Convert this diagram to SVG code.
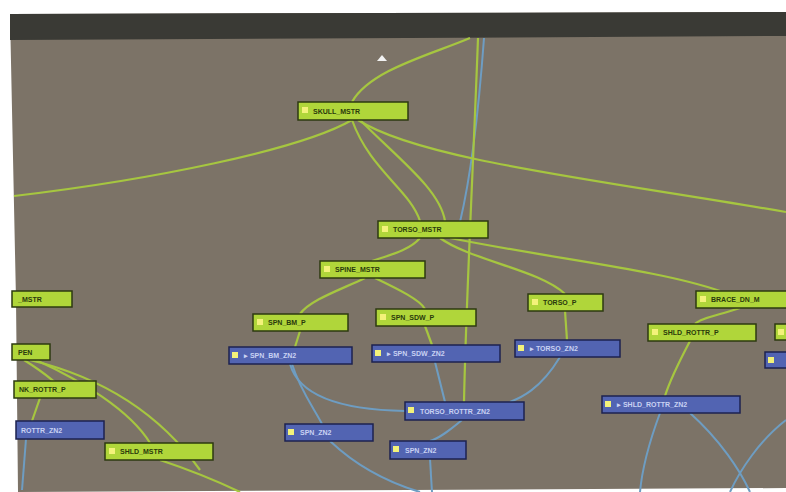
<svg xmlns="http://www.w3.org/2000/svg" width="786" height="492" viewBox="0 0 786 492">
<defs>
<style>
.g{fill:#b0d63a;stroke:#2d3a10;stroke-width:1.5}
.b{fill:#5264b2;stroke:#1c2250;stroke-width:1.5}
.sq{fill:#f3f27a}
.tg{font-family:"Liberation Sans",Arial,sans-serif;font-size:7px;font-weight:bold;fill:#2a3a0c}
.tb{font-family:"Liberation Sans",Arial,sans-serif;font-size:7px;font-weight:bold;fill:#c9d2f2}
.cg{fill:none;stroke:#a6c640;stroke-width:2.2}
.cb{fill:none;stroke:#6e9dc2;stroke-width:2}
</style>
</defs>
<rect x="0" y="0" width="786" height="492" fill="#ffffff"/>
<polygon points="10,14 786,12 786,488 18,492 16,300" fill="#7c7367"/>
<polygon points="10,14 786,12 786,36 10,40" fill="#3a3a35"/>
<polygon points="377,61 382,55 387,61" fill="#f2f2f2"/>
<g id="connectors">
<path class="cb" d="M484,38 C478,120 470,180 460,222"/>
<path class="cb" d="M290,364 C300,400 350,410 405,411"/>
<path class="cb" d="M292,364 C300,390 315,410 322,424"/>
<path class="cb" d="M435,362 L445,402"/>
<path class="cb" d="M560,357 C540,390 520,398 510,402"/>
<path class="cb" d="M462,420 C450,430 440,438 430,441"/>
<path class="cb" d="M330,441 C350,460 380,480 420,492"/>
<path class="cb" d="M430,459 L432,492"/>
<path class="cb" d="M660,413 C650,440 642,470 640,492"/>
<path class="cb" d="M690,413 C720,440 740,470 750,492"/>
<path class="cb" d="M786,420 C760,440 740,470 730,492"/>
<path class="cb" d="M26,439 L22,490"/>
<path class="cg" d="M470,38 C430,55 370,70 352,102"/>
<path class="cg" d="M352,120 C300,150 150,180 14,196"/>
<path class="cg" d="M358,120 C420,160 600,180 786,212"/>
<path class="cg" d="M352,120 C370,170 410,190 420,221"/>
<path class="cg" d="M360,120 C400,160 440,190 445,221"/>
<path class="cg" d="M478,38 C474,150 466,300 464,402"/>
<path class="cg" d="M450,238 C560,260 660,270 720,291"/>
<path class="cg" d="M440,238 C470,260 540,270 565,294"/>
<path class="cg" d="M420,238 C410,250 390,255 372,261"/>
<path class="cg" d="M365,278 C340,290 310,300 300,314"/>
<path class="cg" d="M375,278 C400,290 420,300 425,309"/>
<path class="cg" d="M300,331 L295,347"/>
<path class="cg" d="M425,326 L432,345"/>
<path class="cg" d="M565,311 L567,340"/>
<path class="cg" d="M740,308 C720,315 700,318 695,324"/>
<path class="cg" d="M690,341 C680,360 670,380 665,396"/>
<path class="cg" d="M36,360 C80,380 130,410 150,443"/>
<path class="cg" d="M30,360 C80,372 150,400 200,470"/>
<path class="cg" d="M24,360 C40,370 60,385 70,398"/>
<path class="cg" d="M40,398 L32,421"/>
<path class="cg" d="M160,460 C190,470 215,480 240,492"/>
</g>
<g id="n1"><rect class="g" x="298" y="102" width="110" height="18"/><rect class="sq" x="302" y="107" width="6" height="6"/><text class="tg" x="313" y="114">SKULL_MSTR</text></g>
<g id="n2"><rect class="g" x="378" y="221" width="110" height="17"/><rect class="sq" x="382" y="226" width="6" height="6"/><text class="tg" x="393" y="232">TORSO_MSTR</text></g>
<g id="n3"><rect class="g" x="320" y="261" width="105" height="17"/><rect class="sq" x="324" y="266" width="6" height="6"/><text class="tg" x="335" y="272">SPINE_MSTR</text></g>
<g id="n4"><rect class="g" x="253" y="314" width="95" height="17"/><rect class="sq" x="257" y="319" width="6" height="6"/><text class="tg" x="268" y="325">SPN_BM_P</text></g>
<g id="n5"><rect class="g" x="376" y="309" width="100" height="17"/><rect class="sq" x="380" y="314" width="6" height="6"/><text class="tg" x="391" y="320">SPN_SDW_P</text></g>
<g id="n6"><rect class="g" x="528" y="294" width="75" height="17"/><rect class="sq" x="532" y="299" width="6" height="6"/><text class="tg" x="543" y="305">TORSO_P</text></g>
<g id="n7"><rect class="g" x="696" y="291" width="95" height="17"/><rect class="sq" x="700" y="296" width="6" height="6"/><text class="tg" x="711" y="302">BRACE_DN_M</text></g>
<g id="n8"><rect class="g" x="648" y="324" width="108" height="17"/><rect class="sq" x="652" y="329" width="6" height="6"/><text class="tg" x="663" y="335">SHLD_ROTTR_P</text></g>
<g id="n9"><rect class="g" x="775" y="324" width="15" height="16"/><rect class="sq" x="778" y="329" width="6" height="6"/></g>
<g id="n10"><rect class="g" x="12" y="291" width="60" height="16"/><text class="tg" x="18" y="302">_MSTR</text></g>
<g id="n11"><rect class="g" x="12" y="344" width="38" height="16"/><text class="tg" x="18" y="355">PEN</text></g>
<g id="n12"><rect class="g" x="14" y="381" width="82" height="17"/><text class="tg" x="19" y="392">NK_ROTTR_P</text></g>
<g id="n13"><rect class="b" x="16" y="421" width="88" height="18"/><text class="tb" x="21" y="433">ROTTR_ZN2</text></g>
<g id="n14"><rect class="g" x="105" y="443" width="108" height="17"/><rect class="sq" x="109" y="448" width="6" height="6"/><text class="tg" x="120" y="454">SHLD_MSTR</text></g>
<g id="n15"><rect class="b" x="229" y="347" width="123" height="17"/><rect class="sq" x="232" y="352" width="6" height="6"/><text class="tb" x="244" y="358">▸ SPN_BM_ZN2</text></g>
<g id="n16"><rect class="b" x="372" y="345" width="128" height="17"/><rect class="sq" x="375" y="350" width="6" height="6"/><text class="tb" x="387" y="356">▸ SPN_SDW_ZN2</text></g>
<g id="n17"><rect class="b" x="515" y="340" width="105" height="17"/><rect class="sq" x="518" y="345" width="6" height="6"/><text class="tb" x="530" y="351">▸ TORSO_ZN2</text></g>
<g id="n18"><rect class="b" x="765" y="352" width="25" height="16"/><rect class="sq" x="768" y="357" width="6" height="6"/></g>
<g id="n19"><rect class="b" x="405" y="402" width="119" height="18"/><rect class="sq" x="408" y="407" width="6" height="6"/><text class="tb" x="420" y="414">TORSO_ROTTR_ZN2</text></g>
<g id="n20"><rect class="b" x="285" y="424" width="88" height="17"/><rect class="sq" x="288" y="429" width="6" height="6"/><text class="tb" x="300" y="435">SPN_ZN2</text></g>
<g id="n21"><rect class="b" x="390" y="441" width="76" height="18"/><rect class="sq" x="393" y="446" width="6" height="6"/><text class="tb" x="405" y="453">SPN_ZN2</text></g>
<g id="n22"><rect class="b" x="602" y="396" width="138" height="17"/><rect class="sq" x="605" y="401" width="6" height="6"/><text class="tb" x="617" y="407">▸ SHLD_ROTTR_ZN2</text></g>
</svg>
